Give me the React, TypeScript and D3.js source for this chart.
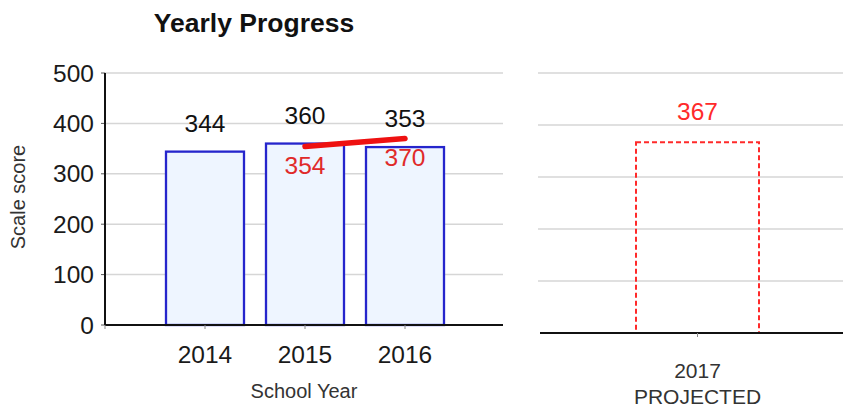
import React from "react";
import * as d3 from "d3";

const years = ["2014", "2015", "2016"];
const scores = [344, 360, 353];
const targetYears = ["2015", "2016"];
const targetScores = [354, 370];
const projectedYear = "2017";
const projectedLabel = "PROJECTED";
const projectedScore = 367;
const yTicks = [0, 100, 200, 300, 400, 500];

const FONT = "'Liberation Sans', Arial, Helvetica, sans-serif";

export default function App() {
  const W = 843;
  const H = 409;

  // Left panel scales
  const yL = d3.scaleLinear().domain([0, 500]).range([325, 73]);
  const xL = d3.scaleBand<string>().domain(years).range([155, 455]).paddingInner(0.22).paddingOuter(0.11);
  const axisLeftX = 105;
  const axisRightX = 503;

  // Right panel scales
  const yR = d3.scaleLinear().domain([0, 500]).range([333, 73]);
  const xR = d3.scaleBand<string>().domain([projectedYear]).range([574.5, 820.5]).paddingInner(0).paddingOuter(0.5);
  const rLeft = 538;
  const rRight = 843;

  const line = d3
    .line<number>()
    .x((_, i) => (xL(targetYears[i]) as number) + xL.bandwidth() / 2)
    .y((d) => yL(d));

  const cR = (xR(projectedYear) as number) + xR.bandwidth() / 2;

  return (
    <svg
      width={W}
      height={H}
      style={{ position: "absolute", left: 0, top: 0, background: "#fff" }}
      fontFamily={FONT}
    >
      <rect x={0} y={0} width={W} height={H} fill="#fff" />
      {/* Title */}
      <text x={254} y={32} textAnchor="middle" fontSize={26.5} fontWeight="bold" fill="#111">
        Yearly Progress
      </text>

      {/* Left gridlines */}
      {yTicks.filter((t) => t > 0).map((t) => (
        <line key={"gl" + t} x1={axisLeftX} x2={axisRightX} y1={yL(t)} y2={yL(t)} stroke="#d6d6d6" strokeWidth={1.5} />
      ))}
      {/* Left y ticks + labels */}
      {yTicks.map((t) => (
        <g key={"yt" + t}>
          <line x1={axisLeftX - 4} x2={axisLeftX} y1={yL(t)} y2={yL(t)} stroke="#555" strokeWidth={1} />
          <text x={94} y={yL(t)} dy="0.35em" textAnchor="end" fontSize={24.5} fill="#1a1a1a">
            {t}
          </text>
        </g>
      ))}

      {/* Bars */}
      {years.map((yr, i) => (
        <rect
          key={yr}
          x={xL(yr)}
          y={yL(scores[i])}
          width={xL.bandwidth()}
          height={yL(0) - yL(scores[i])}
          fill="#eef5ff"
          stroke="#2525cc"
          strokeWidth={2.3}
        />
      ))}

      {/* Axes */}
      <line x1={axisLeftX} x2={axisLeftX} y1={yL(500)} y2={yL(0)} stroke="#111" strokeWidth={2} />
      <line x1={axisLeftX} x2={axisRightX} y1={yL(0)} y2={yL(0)} stroke="#111" strokeWidth={2} />
      <line x1={axisLeftX} x2={axisLeftX} y1={yL(0)} y2={yL(0) + 4} stroke="#888" strokeWidth={1} />
      {years.map((yr) => (
        <g key={"xt" + yr}>
          <line
            x1={(xL(yr) as number) + xL.bandwidth() / 2}
            x2={(xL(yr) as number) + xL.bandwidth() / 2}
            y1={yL(0)}
            y2={yL(0) + 4}
            stroke="#888"
            strokeWidth={1}
          />
          <text x={(xL(yr) as number) + xL.bandwidth() / 2} y={363} textAnchor="middle" fontSize={24.5} fill="#1a1a1a">
            {yr}
          </text>
        </g>
      ))}

      {/* Value labels */}
      {years.map((yr, i) => (
        <text
          key={"vl" + yr}
          x={(xL(yr) as number) + xL.bandwidth() / 2}
          y={yL(scores[i]) - 20}
          textAnchor="middle"
          fontSize={24.5}
          fill="#111"
        >
          {scores[i]}
        </text>
      ))}

      {/* Target line */}
      <path d={line(targetScores) as string} stroke="#ee1111" strokeWidth={5.5} fill="none" strokeLinecap="round" />
      {targetYears.map((yr, i) => (
        <text
          key={"tl" + yr}
          x={(xL(yr) as number) + xL.bandwidth() / 2}
          y={yL(targetScores[i]) + 27}
          textAnchor="middle"
          fontSize={24.5}
          fill="#e02a2a"
        >
          {targetScores[i]}
        </text>
      ))}

      {/* Axis titles */}
      <text x={304} y={398} textAnchor="middle" fontSize={20} fill="#333">
        School Year
      </text>
      <text transform="translate(25,197) rotate(-90)" textAnchor="middle" fontSize={20} fill="#333">
        Scale score
      </text>

      {/* Right panel */}
      {yTicks.filter((t) => t > 0).map((t) => (
        <line key={"gr" + t} x1={rLeft} x2={rRight} y1={yR(t)} y2={yR(t)} stroke="#d6d6d6" strokeWidth={1.5} />
      ))}
      <rect
        x={xR(projectedYear)}
        y={yR(projectedScore)}
        width={xR.bandwidth()}
        height={yR(0) - yR(projectedScore)}
        fill="none"
        stroke="#ff2a2a"
        strokeWidth={2}
        strokeDasharray="5,3"
      />
      <line x1={rLeft + 2} x2={rRight} y1={yR(0)} y2={yR(0)} stroke="#111" strokeWidth={2} />
      <line x1={cR} x2={cR} y1={yR(0)} y2={yR(0) + 4} stroke="#888" strokeWidth={1} />
      <text x={cR} y={yR(projectedScore) - 22} textAnchor="middle" fontSize={24.5} fill="#ff2a2a">
        {projectedScore}
      </text>
      <text x={cR} y={378} textAnchor="middle" fontSize={21} fill="#333">
        {projectedYear}
      </text>
      <text x={cR} y={404} textAnchor="middle" fontSize={21} fill="#333">
        {projectedLabel}
      </text>
    </svg>
  );
}
